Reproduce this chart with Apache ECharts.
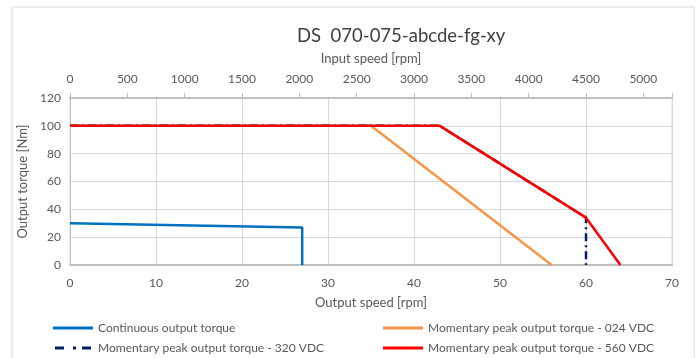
<!DOCTYPE html>
<html>
<head>
<meta charset="utf-8">
<script src="https://cdn.jsdelivr.net/npm/echarts@6/dist/echarts.min.js"></script>
<style>
  html, body { margin: 0; padding: 0; background: #fff; }
  #chart { width: 699px; height: 358px; }
</style>
</head>
<body>
<div id="chart"></div>
<script>
// output speed [rpm], output torque [Nm]
const continuousTorque = [[0, 30], [27, 27], [27, 0]];
const peak024 = [[0, 100], [35, 100], [56, 0]];
const peak320 = [[0, 100], [43, 100], [60, 34], [60, 0]];
const peak560 = [[0, 100], [43, 100], [60, 34], [64, 0]];

const gearRatio = 75;
const outputMax = 70;
const inputTicks = [0, 500, 1000, 1500, 2000, 2500, 3000, 3500, 4000, 4500, 5000];

const seriesNames = [
  'Continuous output torque',
  'Momentary peak output torque - 024 VDC',
  'Momentary peak output torque - 320 VDC',
  'Momentary peak output torque - 560 VDC'
];

const txt = '#595959';
const font = 'Lato, "Open Sans", sans-serif';

const solidIcon = 'path://M0,0h40v3h-40z';
const dashDotIcon = 'path://M0,0h9v3h-9z M18,0h3v3h-3z M27,0h9v3h-9z';

const chart = echarts.init(document.getElementById('chart'));

const legendBase = {
  orient: 'vertical',
  top: 317,
  height: 60,
  itemWidth: 40, itemHeight: 3, itemGap: 8,
  textStyle: { fontFamily: font, fontSize: 12, color: txt }
};

const option = {
  backgroundColor: '#fff',
  animation: false,
  textStyle: { fontFamily: font },
  graphic: [{
    type: 'rect',
    shape: { x: 12, y: 7, width: 682, height: 360 },
    style: { fill: 'none', stroke: '#d9d9d9', lineWidth: 1 },
    silent: true
  }],
  title: {
    text: 'DS  070-075-abcde-fg-xy',
    left: 292,
    top: 22,
    textStyle: { fontFamily: font, fontSize: 18.5, fontWeight: 'normal', color: '#404040' }
  },
  grid: {
    left: 70, right: 27, top: 98, bottom: 93,
    show: true, borderColor: '#d9d9d9', borderWidth: 1, backgroundColor: 'transparent'
  },
  legend: [
    Object.assign({}, legendBase, {
      left: 48,
      data: [{ name: seriesNames[0], icon: solidIcon }, { name: seriesNames[2], icon: dashDotIcon }]
    }),
    Object.assign({}, legendBase, {
      left: 378,
      data: [{ name: seriesNames[1], icon: solidIcon }, { name: seriesNames[3], icon: solidIcon }]
    })
  ],
  xAxis: [
    {
      type: 'value',
      position: 'bottom',
      min: 0, max: outputMax, interval: 10,
      name: 'Output speed [rpm]',
      nameLocation: 'middle',
      nameGap: 31,
      nameTextStyle: { fontSize: 13, color: txt },
      axisLine: { lineStyle: { color: '#bfbfbf', width: 2 } },
      axisTick: { show: false },
      axisLabel: { color: txt, fontSize: 12, margin: 12 },
      splitLine: { lineStyle: { color: '#d9d9d9' } }
    },
    {
      type: 'value',
      position: 'top',
      min: 0, max: outputMax * gearRatio, interval: 500,
      name: 'Input speed [rpm]',
      nameLocation: 'middle',
      nameGap: 33,
      nameTextStyle: { fontSize: 13, color: txt },
      axisLine: { lineStyle: { color: '#bfbfbf', width: 2 } },
      axisTick: { show: true, length: 5, lineStyle: { color: '#bfbfbf' } },
      axisLabel: {
        color: txt, fontSize: 12, margin: 13,
        formatter: v => inputTicks.includes(v) ? String(v) : ''
      },
      splitLine: { show: false }
    }
  ],
  yAxis: {
    type: 'value',
    min: 0, max: 120, interval: 20,
    name: 'Output torque [Nm]',
    nameLocation: 'middle',
    nameGap: 40,
    nameTextStyle: { fontSize: 13, color: txt },
    axisLine: { show: true, lineStyle: { color: '#bfbfbf', width: 1 } },
    axisTick: { show: false },
    axisLabel: { color: txt, fontSize: 12, margin: 9 },
    splitLine: { lineStyle: { color: '#d9d9d9' } }
  },
  series: [
    {
      name: seriesNames[0], type: 'line', data: continuousTorque,
      symbol: 'none', lineStyle: { color: '#0070c0', width: 2.5 }, itemStyle: { color: '#0070c0' }
    },
    {
      name: seriesNames[1], type: 'line', data: peak024,
      symbol: 'none', lineStyle: { color: '#f79646', width: 2.5 }, itemStyle: { color: '#f79646' }
    },
    {
      name: seriesNames[2], type: 'line', data: peak320,
      symbol: 'none', lineStyle: { color: '#002060', width: 2.5, type: [8, 4, 2, 4] }, itemStyle: { color: '#002060' }
    },
    {
      name: seriesNames[3], type: 'line', data: peak560,
      symbol: 'none', lineStyle: { color: '#ff0000', width: 2.5 }, itemStyle: { color: '#ff0000' }
    }
  ]
};

chart.setOption(option);
</script>
</body>
</html>
